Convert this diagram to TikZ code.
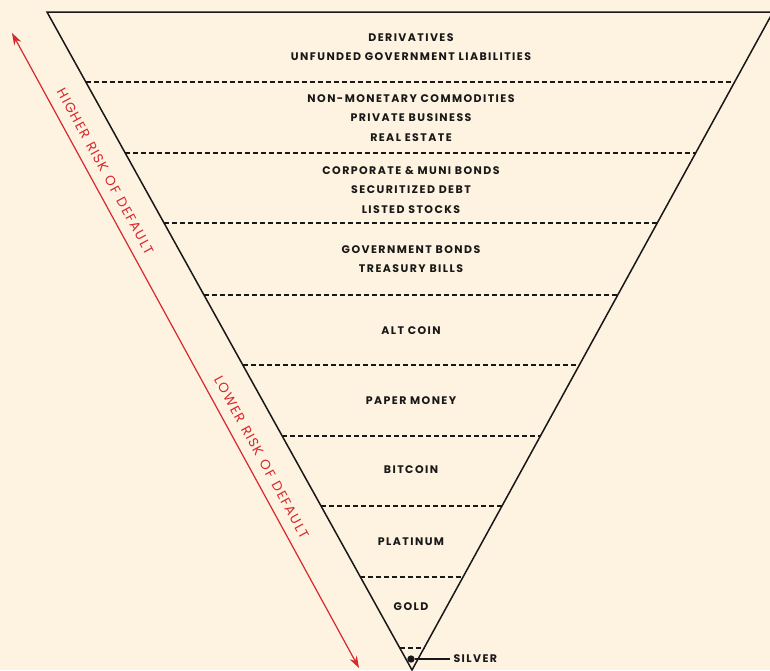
\documentclass[tikz,border=0pt]{standalone}
\usepackage{fontspec}
\setmainfont{Poppins}
\newfontfamily\tierfont[LetterSpace=13]{Poppins}
\newfontfamily\riskfont[LetterSpace=10,WordSpace=1.3]{Poppins}
\usetikzlibrary{arrows.meta,calc}

\definecolor{paper}{RGB}{254,242,224}
\definecolor{riskred}{RGB}{214,40,46}
\definecolor{ink}{RGB}{24,24,24}

\begin{document}
\begin{tikzpicture}[x=1pt,y=-1pt,>={Stealth[length=12pt,width=8pt]},
    tier/.style={font=\tierfont\bfseries\fontsize{11}{19.5}\selectfont,
      text=ink,align=center},
    divider/.style={draw=ink,line width=1.3pt,dash pattern=on 5pt off 3pt},
    rim/.style={draw=ink,line width=1.5pt,line join=miter},
    risk/.style={font=\riskfont\fontsize{13.5}{15}\selectfont,text=riskred,
      sloped,above=10pt,inner sep=0pt}]

  \fill[paper] (0,0) rectangle (770,670);
  \useasboundingbox (0,0) rectangle (770,670);

  % pyramid corners
  \coordinate (tl) at (47,12);
  \coordinate (tr) at (773,12);
  \coordinate (apex) at (412,670);
  \draw[rim] (tl) -- (tr) -- (apex) -- cycle;

  % band dividers
  \foreach \y in {82,153,223,295,365,436,506,577,648}
    \draw[divider] ($(tl)!{(\y-12)/658}!(apex)$) -- ($(tr)!{(\y-12)/658}!(apex)$);

  % band labels
  \node[tier] (deriv)  at (411,47)  {DERIVATIVES\\UNFUNDED GOVERNMENT LIABILITIES};
  \node[tier] (nonmon) at (411,118) {NON-MONETARY COMMODITIES\\PRIVATE BUSINESS\\REAL ESTATE};
  \node[tier] (corp)   at (411,190) {CORPORATE \& MUNI BONDS\\SECURITIZED DEBT\\LISTED STOCKS};
  \node[tier] (govt)   at (411,259) {GOVERNMENT BONDS\\TREASURY BILLS};
  \node[tier] (alt)    at (411,331) {ALT COIN};
  \node[tier] (paper)  at (411,401) {PAPER MONEY};
  \node[tier] (btc)    at (411,470) {BITCOIN};
  \node[tier] (plat)   at (411,542) {PLATINUM};
  \node[tier] (gold)   at (411,607) {GOLD};

  % silver callout
  \node[circle,fill=ink,inner sep=2.6pt] (silverdot) at (411,659) {};
  \node[tier,anchor=west] (silver) at (450,659) {SILVER};
  \draw[ink,line width=1.3pt] (silverdot) -- (silver.west);

  % risk arrow
  \coordinate (high) at (12,33);
  \coordinate (low) at (359,668);
  \draw[<->,riskred,line width=1.2pt] (high) --
    node[risk,pos=.23] (hirisk) {HIGHER RISK OF DEFAULT}
    node[risk,pos=.68] (lorisk) {LOWER RISK OF DEFAULT} (low);
\end{tikzpicture}
\end{document}
